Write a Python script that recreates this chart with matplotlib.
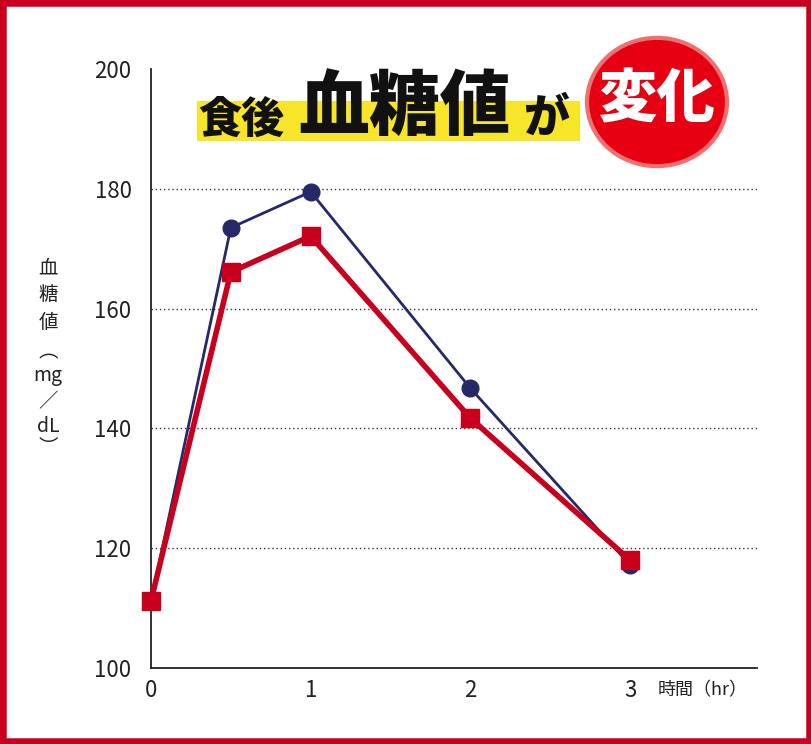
import matplotlib
matplotlib.use("Agg")
import matplotlib.pyplot as plt
from matplotlib.patches import Rectangle, Circle

plt.rcParams['font.family'] = ['Noto Sans CJK JP', 'DejaVu Sans']

hours = [0, 0.5, 1, 2, 3]
navy_vals = [111.2, 173.5, 179.5, 146.7, 117.2]
red_vals = [111.2, 166.1, 172.1, 141.7, 118.0]
xticks = [0, 1, 2, 3]
yticks = [100, 120, 140, 160, 180, 200]

W, H = 812, 744
fig = plt.figure(figsize=(W/100, H/100), dpi=100)
fig.patches.append(Rectangle((0, 0), 1, 1, transform=fig.transFigure, fill=False,
                             edgecolor='#c8001e', linewidth=9))

ax = fig.add_axes([151/W, 1-668/H, (757-151)/W, (668-69)/H])
ax.set_xlim(0, (757-151)/159.7)
ax.set_ylim(100, 200)
for s in ['top', 'right']:
    ax.spines[s].set_visible(False)
for s in ['left', 'bottom']:
    ax.spines[s].set_linewidth(1.3)
    ax.spines[s].set_color('#222222')
for y in yticks[1:-1]:
    ax.axhline(y, color='#333333', linestyle=(0, (1, 2)), linewidth=1, zorder=0)
ax.set_xticks(xticks)
ax.set_yticks(yticks)
ax.tick_params(axis='y', labelsize=16, length=0, pad=14, colors='#222222')
ax.tick_params(axis='x', labelsize=16, length=0, pad=8, colors='#222222')
ax.set_xticklabels([str(t) for t in xticks])

ax.plot(hours, navy_vals, color='#262868', linewidth=2, marker='o', markersize=12, zorder=3, clip_on=False)
ax.plot(hours, red_vals, color='#c8001e', linewidth=4, marker='s', markersize=13, zorder=4, clip_on=False)

ylab = ['血', '糖', '値', '︵', 'mg', '／', 'dL', '︶']
ys = [268, 295, 322, 352, 375, 402, 426, 448]
for ch, yy in zip(ylab, ys):
    fig.text(48/W, 1-yy/H, ch, fontsize=14, ha='center', va='center', color='#222222')

fig.text(703/W, 1-690/H, '時間（hr）', fontsize=13, ha='center', va='center', color='#222222')

fig.patches.append(Rectangle((197/W, 1-141/H), (580-197)/W, 40/H, transform=fig.transFigure,
                             facecolor='#f7e52a', edgecolor='none', zorder=1))
fig.text(198/W, 1-120/H, '食後', fontsize=31, fontweight='black', ha='left', va='center', color='#111111', zorder=2)
fig.text(298/W, 1-108/H, '血糖値', fontsize=51, fontweight='black', ha='left', va='center', color='#111111', zorder=2)
fig.text(523/W, 1-118/H, 'が', fontsize=33, fontweight='black', ha='left', va='center', color='#111111', zorder=2)
fig.patches.append(Circle((657/W, 1-102/H), 70/W, transform=fig.transFigure,
                          facecolor='#e60012', edgecolor='#f07070', linewidth=3, zorder=3))
fig.text(657/W, 1-100/H, '変化', fontsize=42, fontweight='black', ha='center', va='center', color='white', zorder=4)

fig.savefig('out.png', dpi=100)
